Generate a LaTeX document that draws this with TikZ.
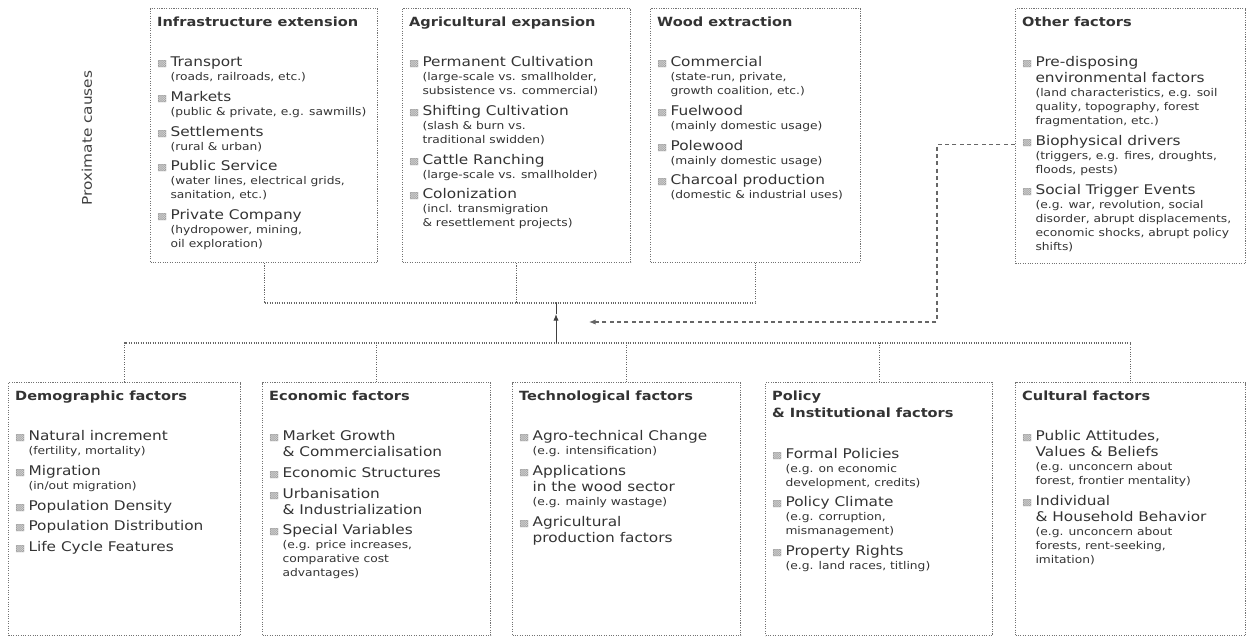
\documentclass[tikz,border=0pt]{standalone}
\usepackage{fontspec}
\setmainfont{DejaVu Sans}[FakeStretch=1.15]
\usetikzlibrary{arrows.meta}

% box contents
\newcommand{\ttl}[1]{{\fontsize{9.5}{13}\selectfont\bfseries #1\par}\vspace{15pt}}
\newcommand{\blt}{{\color{black!40}\fontsize{7}{7}\selectfont ▩}}
\newcommand{\itm}[2]{{\par\vspace{3.5pt}\let\\\newline
  \hangindent=10pt\hangafter=1\noindent
  \fontsize{10}{12}\selectfont\makebox[10pt][l]{\blt}#1\par
  \leftskip=10pt\fontsize{8}{10.5}\selectfont #2\par}}
\newcommand{\cbox}[3]{\parbox[t][\dimexpr #2pt*3/4-12pt\relax][t]{\dimexpr #1pt*3/4-10pt\relax}{\raggedright #3}}

\begin{document}
\begin{tikzpicture}[x=0.75pt, y=-0.75pt,
    cause/.style={draw=black!55, densely dotted, line width=0.8pt, anchor=north west, inner xsep=5pt, inner ysep=6pt, text=black!80},
    link/.style={draw=black!60, densely dotted, line width=0.8pt},
    rise/.style={draw=black!75, line width=0.7pt},
    feedback/.style={draw=black!60, line width=0.8pt, dash pattern=on 3pt off 2.5pt}]
    \useasboundingbox (0,0) rectangle (1252,642);

    \node[rotate=90, text=black!75, font=\fontsize{10}{12}\selectfont] (proxlabel) at (87,138) {Proximate causes};

    % proximate causes
    \node[cause] (infra) at (150,8) {\cbox{227}{254}{\ttl{Infrastructure extension}
        \itm{Transport}{(roads, railroads, etc.)}
        \itm{Markets}{(public \& private, e.g. sawmills)}
        \itm{Settlements}{(rural \& urban)}
        \itm{Public Service}{(water lines, electrical grids,\\ sanitation, etc.)}
        \itm{Private Company}{(hydropower, mining,\\ oil exploration)}}};
    \node[cause] (agri) at (402,8) {\cbox{228}{254}{\ttl{Agricultural expansion}
        \itm{Permanent Cultivation}{(large-scale vs. smallholder,\\ subsistence vs. commercial)}
        \itm{Shifting Cultivation}{(slash \& burn vs.\\ traditional swidden)}
        \itm{Cattle Ranching}{(large-scale vs. smallholder)}
        \itm{Colonization}{(incl. transmigration\\ \& resettlement projects)}}};
    \node[cause] (wood) at (650,8) {\cbox{210}{254}{\ttl{Wood extraction}
        \itm{Commercial}{(state-run, private,\\ growth coalition, etc.)}
        \itm{Fuelwood}{(mainly domestic usage)}
        \itm{Polewood}{(mainly domestic usage)}
        \itm{Charcoal production}{(domestic \& industrial uses)}}};
    \node[cause] (other) at (1015,8) {\cbox{230}{255}{\ttl{Other factors}
        \itm{Pre-disposing\\ environmental factors}{(land characteristics, e.g. soil\\ quality, topography, forest\\ fragmentation, etc.)}
        \itm{Biophysical drivers}{(triggers, e.g. fires, droughts,\\ floods, pests)}
        \itm{Social Trigger Events}{(e.g. war, revolution, social\\ disorder, abrupt displacements,\\ economic shocks, abrupt policy\\ shifts)}}};

    % underlying causes
    \node[cause] (demo) at (8,382) {\cbox{232}{253}{\ttl{Demographic factors}
        \itm{Natural increment}{(fertility, mortality)}
        \itm{Migration}{(in/out migration)}
        \itm{Population Density}{}
        \itm{Population Distribution}{}
        \itm{Life Cycle Features}{}}};
    \node[cause] (econ) at (262,382) {\cbox{228}{253}{\ttl{Economic factors}
        \itm{Market Growth\\ \& Commercialisation}{}
        \itm{Economic Structures}{}
        \itm{Urbanisation\\ \& Industrialization}{}
        \itm{Special Variables}{(e.g. price increases,\\ comparative cost\\ advantages)}}};
    \node[cause] (tech) at (512,382) {\cbox{228}{253}{\ttl{Technological factors}
        \itm{Agro-technical Change}{(e.g. intensification)}
        \itm{Applications\\ in the wood sector}{(e.g. mainly wastage)}
        \itm{Agricultural\\ production factors}{}}};
    \node[cause] (policy) at (765,382) {\cbox{227}{253}{\ttl{Policy\\ \& Institutional factors}
        \itm{Formal Policies}{(e.g. on economic\\ development, credits)}
        \itm{Policy Climate}{(e.g. corruption,\\ mismanagement)}
        \itm{Property Rights}{(e.g. land races, titling)}}};
    \node[cause] (cult) at (1015,382) {\cbox{230}{253}{\ttl{Cultural factors}
        \itm{Public Attitudes,\\ Values \& Beliefs}{(e.g. unconcern about\\ forest, frontier mentality)}
        \itm{Individual\\ \& Household Behavior}{(e.g. unconcern about\\ forests, rent-seeking,\\ imitation)}}};

    \coordinate (topbus) at (556,303);
    \coordinate (bus) at (556,343);
    \coordinate (tip) at (556,314);
    \coordinate (fbtip) at (589,322);

    \draw[link] (infra.south) |- (topbus) -| (wood.south);
    \draw[link] (agri.south) -- (agri.south |- topbus);
    \draw[link] (demo.north) |- (bus) -| (cult.north);
    \foreach \n in {econ,tech,policy}
        \draw[link] (\n.north) -- (\n.north |- bus);
    \draw[rise,-{Latex[length=5pt,width=4pt]}] (bus) -- (tip);
    \draw[rise] (tip) -- (topbus);
    \draw[feedback,-{Latex[length=5pt,width=4pt]}] ([yshift=-6pt]other.west) -- ++(-78,0) |- (fbtip);
\end{tikzpicture}
\end{document}
